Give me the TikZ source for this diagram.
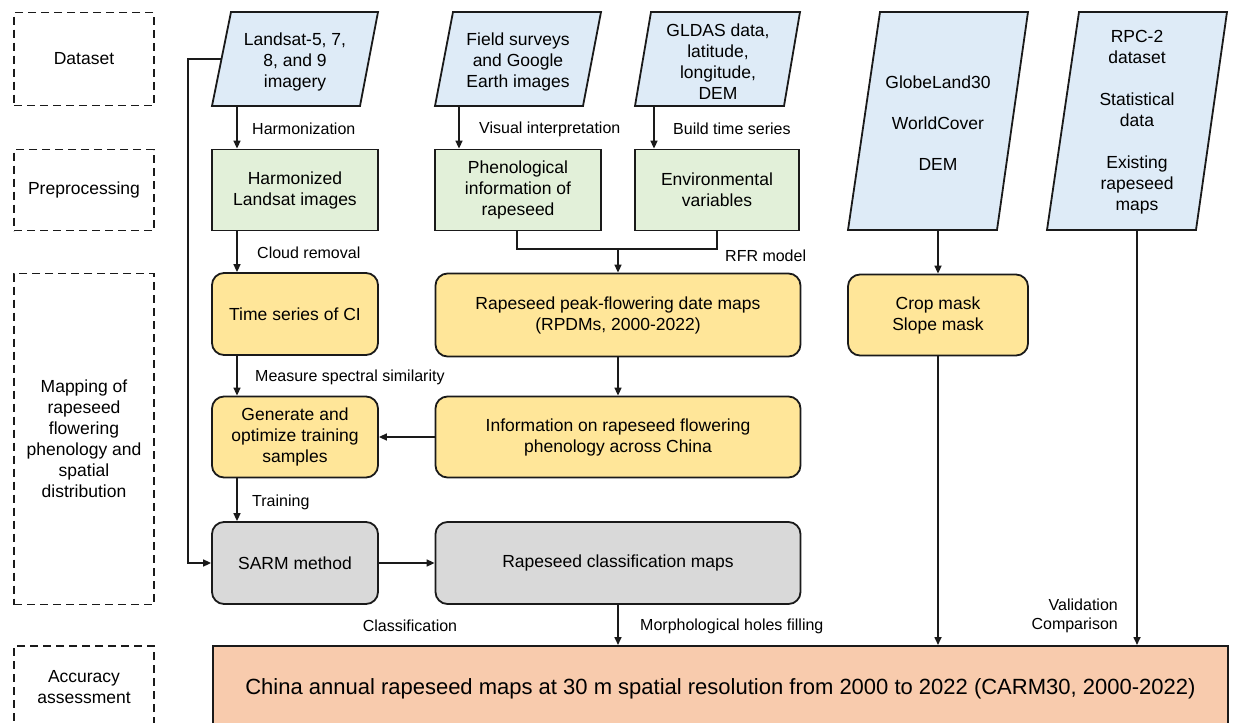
\documentclass[tikz,border=0pt]{standalone}
\usepackage{fontspec}
\setmainfont{Liberation Sans}
\usetikzlibrary{arrows.meta}
\definecolor{cblue}{HTML}{DEEBF7}
\definecolor{cgreen}{HTML}{E2F0D9}
\definecolor{cyellow}{HTML}{FFE699}
\definecolor{cgray}{HTML}{D9D9D9}
\definecolor{cpeach}{HTML}{F8CBAD}
\definecolor{cline}{HTML}{1A1A1A}
\begin{document}
\begin{tikzpicture}[x=1pt,y=-1pt,
  lab/.style={font=\fontsize{16}{19.5}\selectfont, inner sep=0pt, align=left},
  boxtxt/.style={font=\fontsize{17.5}{21}\selectfont, align=center, inner sep=0pt},
  dbox/.style={draw=cline, line width=1.8pt, dash pattern=on 8pt off 5pt, minimum width=140pt, boxtxt},
  sq/.style={draw=cline, line width=1.8pt, boxtxt},
  rbox/.style={sq, rounded corners=12pt, fill=cyellow},
  gbox/.style={sq, rounded corners=12pt, fill=cgray},
  para/.style={draw=cline, line width=1.8pt, fill=cblue, line join=miter},
  arr/.style={line width=1.6pt, draw=cline, -{Triangle[length=8pt,width=7pt]}},
  ln/.style={line width=1.6pt, draw=cline}
]
\clip (0,0) rectangle (1235,723);

% stage labels
\node[dbox, minimum height=93pt] (dsL) at (84,59) {Dataset};
\node[dbox, minimum height=81pt] (ppL) at (84,190) {Preprocessing};
\node[dbox, minimum height=331pt] (mpL) at (84,439) {Mapping of\\rapeseed\\flowering\\phenology and\\spatial\\distribution};
\node[dbox, minimum height=82pt] (aaL) at (84,687) {Accuracy\\assessment};

% datasets (parallelograms)
\draw[para] (231,12) -- (378,12) -- (360,106) -- (212,106) -- cycle;
\node[boxtxt] (ls) at (295,62) {Landsat-5, 7,\\8, and 9\\imagery};
\coordinate (lsB) at (237,106);
\coordinate (lsL) at (221.5,59);
\coordinate (cL) at (188,59);

\draw[para] (453,12) -- (601,12) -- (583,106) -- (435,106) -- cycle;
\node[boxtxt] (fs) at (518,62) {Field surveys\\and Google\\Earth images};
\coordinate (fsB) at (459,106);

\draw[para] (651,12) -- (800,12) -- (784,106) -- (635,106) -- cycle;
\node[boxtxt] (gl) at (718,61.5) {GLDAS data,\\latitude,\\longitude,\\DEM};
\coordinate (glB) at (654,106);

\draw[para] (880,12) -- (1028,12) -- (997,230) -- (848,230) -- cycle;
\node[boxtxt] (gb) at (938,123.5) {GlobeLand30\\[20pt]WorldCover\\[20pt]DEM};
\coordinate (gbB) at (938,230);

\draw[para] (1079,12) -- (1227,12) -- (1196,230) -- (1047,230) -- cycle;
\node[boxtxt] (rp) at (1137,122) {RPC-2\\dataset\\[21pt]Statistical\\data\\[21pt]Existing\\rapeseed\\maps};
\coordinate (rpB) at (1137,230);

% preprocessing
\node[sq, fill=cgreen, minimum width=166pt, minimum height=81pt] (harm) at (295,190) {Harmonized\\Landsat images};
\node[sq, fill=cgreen, minimum width=166pt, minimum height=81pt] (phen) at (518,190) {Phenological\\information of\\rapeseed};
\node[sq, fill=cgreen, minimum width=164pt, minimum height=81pt] (env) at (717,190) {Environmental\\variables};

% mapping
\node[rbox, minimum width=166pt, minimum height=82pt] (tsci) at (295,314) {Time series of CI};
\node[rbox, minimum width=166pt, minimum height=81pt] (gen) at (295,437) {Generate and\\optimize training\\samples};
\node[rbox, minimum width=365pt, minimum height=83pt] (rpdm) at (618,315) {Rapeseed peak-flowering date maps\\(RPDMs, 2000-2022)};
\node[rbox, minimum width=365pt, minimum height=81pt] (info) at (618,437) {Information on rapeseed flowering\\phenology across China};
\node[rbox, minimum width=180pt, minimum height=81pt] (crop) at (938,315) {Crop mask\\Slope mask};
\node[gbox, minimum width=166pt, minimum height=82pt] (sarm) at (295,563) {SARM method};
\node[gbox, minimum width=365pt, minimum height=82pt] (rcm) at (618,563) {Rapeseed classification maps};

% result
\node[sq, fill=cpeach, minimum width=1015pt, minimum height=86pt, anchor=north west, font=\fontsize{22}{26}\selectfont] (china) at (212,645) {China annual rapeseed maps at 30 m spatial resolution from 2000 to 2022 (CARM30, 2000-2022)};

% connectors
\draw[arr] (lsB) -- (lsB |- harm.north);
\draw[arr] (lsB |- harm.south) -- (lsB |- tsci.north);
\draw[arr] (lsB |- tsci.south) -- (lsB |- gen.north);
\draw[arr] (lsB |- gen.south) -- (lsB |- sarm.north);
\draw[arr] (lsL) -- (cL) |- (sarm.west);

\draw[arr] (fsB) -- (fsB |- phen.north);
\draw[arr] (glB) -- (glB |- env.north);
\coordinate (mL) at (517,249);
\coordinate (mR) at (717,249);
\coordinate (mC) at (618,249);
\draw[ln] (mL |- phen.south) -- (mL) -- (mR) -- (mR |- env.south);
\draw[arr] (mC) -- (rpdm.north);
\draw[arr] (rpdm.south) -- (info.north);
\draw[arr] (info.west) -- (gen.east);
\draw[arr] (sarm.east) -- (rcm.west);
\draw[arr] (rcm.south) -- (rcm.south |- china.north);
\draw[arr] (gbB) -- (crop.north);
\draw[arr] (crop.south) -- (crop.south |- china.north);
\draw[arr] (rpB) -- (rpB |- china.north);

% connector labels
\node[lab, anchor=west] (l1) at (252,129) {Harmonization};
\node[lab, anchor=west] (l2) at (257,253) {Cloud removal};
\node[lab, anchor=west] (l3) at (255,377) {Measure spectral similarity};
\node[lab, anchor=west] (l4) at (252,502) {Training};
\node[lab, anchor=west] (l5) at (479,129) {Visual interpretation};
\node[lab, anchor=west] (l6) at (673,129) {Build time series};
\node[lab, anchor=west] (l7) at (725,256) {RFR model};
\node[lab] (l8) at (410,626) {Classification};
\node[lab, anchor=west] (l9) at (640,626) {Morphological holes filling};
\node[lab, anchor=east, align=right] (l10) at (1118,616) {Validation\\Comparison};
\end{tikzpicture}
\end{document}
